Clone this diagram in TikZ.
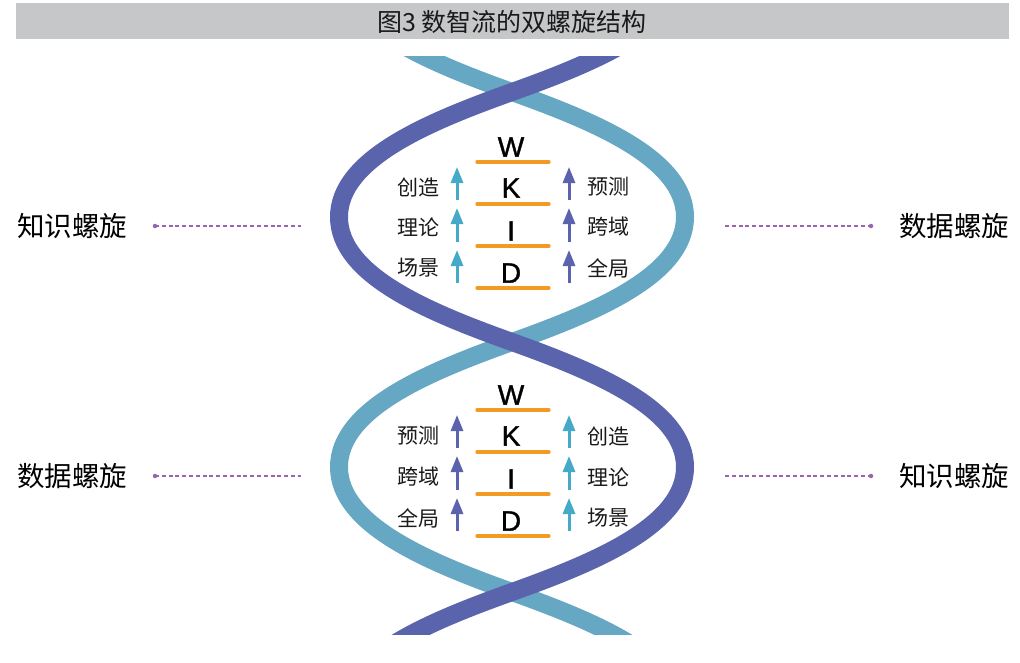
\documentclass[tikz,border=0pt]{standalone}
\usepackage{fontspec}
\setmainfont{Liberation Sans}
\newfontfamily\cjk{Noto Sans CJK SC}
\newfontfamily\letterfont[FakeBold=1.3]{Liberation Sans}
\usetikzlibrary{arrows.meta}
\definecolor{strandP}{HTML}{5A64AD}
\definecolor{strandT}{HTML}{66A8C4}
\definecolor{arrT}{HTML}{45A9C8}
\definecolor{arrP}{HTML}{5B63AE}
\definecolor{orangeL}{HTML}{F39A22}
\definecolor{dashC}{HTML}{9A63B0}
\definecolor{barC}{HTML}{C6C7C9}
\definecolor{txtC}{HTML}{1A1A1A}
\tikzset{
  strand/.style={line width=18pt},
  letter/.style={inner sep=0pt,text=black,font=\letterfont\fontsize{28pt}{28pt}\selectfont},
  lab/.style={inner sep=0pt,text=txtC,font=\cjk\fontsize{21pt}{21pt}\selectfont},
  side/.style={inner sep=0pt,text=black,font=\cjk\fontsize{27.5pt}{27.5pt}\selectfont},
  rung/.style={draw=orangeL,line width=3.3pt,line cap=round},
  upT/.style={draw=arrT,fill=arrT,line width=3pt,-{Triangle[length=16pt,width=12pt]}},
  upP/.style={draw=arrP,fill=arrP,line width=3pt,-{Triangle[length=16pt,width=12pt]}},
  dashline/.style={draw=dashC,line width=1.1pt,dash pattern=on 4pt off 2.8pt},
  dotnode/.style={circle,fill=dashC,inner sep=0pt,minimum size=4.5pt}
}
\begin{document}
\begin{tikzpicture}[x=1pt,y=-1pt]
\useasboundingbox (0,0) rectangle (1020,662);
\fill[white] (0,0) rectangle (1020,662);
% title bar
\fill[barC] (16,3) rectangle (1009,39);
\node[inner sep=0pt,text=txtC,font=\cjk\fontsize{25pt}{25pt}\selectfont] (title) at (512,21.5) {图3 数智流的双螺旋结构};
% strands
\begin{scope}
\clip (0,56) rectangle (1020,634);
\draw[strand,strandT] (339,-33) .. controls (339,25) and (428,62) .. (512,92)
  .. controls (596,122) and (685,159) .. (685,217)
  .. controls (685,275) and (596,312) .. (512,342)
  .. controls (428,372) and (339,409) .. (339,467)
  .. controls (339,525) and (428,562) .. (512,592)
  .. controls (596,622) and (685,659) .. (685,717);
\draw[strand,strandP] (685,-33) .. controls (685,25) and (596,62) .. (512,92)
  .. controls (428,122) and (339,159) .. (339,217)
  .. controls (339,275) and (428,312) .. (512,342)
  .. controls (596,372) and (685,409) .. (685,467)
  .. controls (685,525) and (596,562) .. (512,592)
  .. controls (428,622) and (339,659) .. (339,717);
\end{scope}
% ---------- upper group ----------
\node[letter] (W1) at (511,147) {W};
\node[letter] (K1) at (511,188) {K};
\node[letter] (I1) at (511,231) {I};
\node[letter] (D1) at (511,273) {D};
\coordinate (r1a) at (477,162); \coordinate (r1b) at (549,162);
\coordinate (r2a) at (477,204); \coordinate (r2b) at (549,204);
\coordinate (r3a) at (477,246); \coordinate (r3b) at (549,246);
\coordinate (r4a) at (477,288); \coordinate (r4b) at (549,288);
\draw[rung] (r1a) -- (r1b);
\draw[rung] (r2a) -- (r2b);
\draw[rung] (r3a) -- (r3b);
\draw[rung] (r4a) -- (r4b);
\coordinate (la1s) at (457,200); \coordinate (la1e) at (457,167);
\coordinate (la2s) at (457,242); \coordinate (la2e) at (457,208);
\coordinate (la3s) at (457,283); \coordinate (la3e) at (457,250);
\coordinate (ra1s) at (569,200); \coordinate (ra1e) at (569,167);
\coordinate (ra2s) at (569,242); \coordinate (ra2e) at (569,208);
\coordinate (ra3s) at (569,283); \coordinate (ra3e) at (569,250);
\draw[upT] (la1s) -- (la1e);
\draw[upT] (la2s) -- (la2e);
\draw[upT] (la3s) -- (la3e);
\draw[upP] (ra1s) -- (ra1e);
\draw[upP] (ra2s) -- (ra2e);
\draw[upP] (ra3s) -- (ra3e);
\node[lab] (l1a) at (418,187) {创造};
\node[lab] (l1b) at (418,227) {理论};
\node[lab] (l1c) at (418,268) {场景};
\node[lab] (r1x) at (608,187) {预测};
\node[lab] (r1y) at (608,227) {跨域};
\node[lab] (r1z) at (608,268) {全局};
% ---------- lower group ----------
\node[letter] (W2) at (511,395) {W};
\node[letter] (K2) at (511,436) {K};
\node[letter] (I2) at (511,479) {I};
\node[letter] (D2) at (511,521) {D};
\coordinate (s1a) at (477,410); \coordinate (s1b) at (549,410);
\coordinate (s2a) at (477,452); \coordinate (s2b) at (549,452);
\coordinate (s3a) at (477,494); \coordinate (s3b) at (549,494);
\coordinate (s4a) at (477,536); \coordinate (s4b) at (549,536);
\draw[rung] (s1a) -- (s1b);
\draw[rung] (s2a) -- (s2b);
\draw[rung] (s3a) -- (s3b);
\draw[rung] (s4a) -- (s4b);
\coordinate (lb1s) at (457,448); \coordinate (lb1e) at (457,415);
\coordinate (lb2s) at (457,490); \coordinate (lb2e) at (457,456);
\coordinate (lb3s) at (457,531); \coordinate (lb3e) at (457,498);
\coordinate (rb1s) at (569,448); \coordinate (rb1e) at (569,415);
\coordinate (rb2s) at (569,490); \coordinate (rb2e) at (569,456);
\coordinate (rb3s) at (569,531); \coordinate (rb3e) at (569,498);
\draw[upP] (lb1s) -- (lb1e);
\draw[upP] (lb2s) -- (lb2e);
\draw[upP] (lb3s) -- (lb3e);
\draw[upT] (rb1s) -- (rb1e);
\draw[upT] (rb2s) -- (rb2e);
\draw[upT] (rb3s) -- (rb3e);
\node[lab] (l2a) at (418,436) {预测};
\node[lab] (l2b) at (418,477) {跨域};
\node[lab] (l2c) at (418,518) {全局};
\node[lab] (r2x) at (608,436) {创造};
\node[lab] (r2y) at (608,477) {理论};
\node[lab] (r2z) at (608,518) {场景};
% ---------- side labels ----------
\node[side] (sideLT) at (72,226) {知识螺旋};
\node[side] (sideRT) at (954,226) {数据螺旋};
\node[side] (sideLB) at (72,476) {数据螺旋};
\node[side] (sideRB) at (954,476) {知识螺旋};
\node[dotnode] (dLT) at (155,226) {};
\coordinate (eLT) at (301,226);
\node[dotnode] (dRT) at (871,226) {};
\coordinate (eRT) at (725,226);
\node[dotnode] (dLB) at (155,476) {};
\coordinate (eLB) at (301,476);
\node[dotnode] (dRB) at (871,476) {};
\coordinate (eRB) at (725,476);
\draw[dashline] (dLT.center) -- (eLT);
\draw[dashline] (eRT) -- (dRT.center);
\draw[dashline] (dLB.center) -- (eLB);
\draw[dashline] (eRB) -- (dRB.center);
\end{tikzpicture}
\end{document}
